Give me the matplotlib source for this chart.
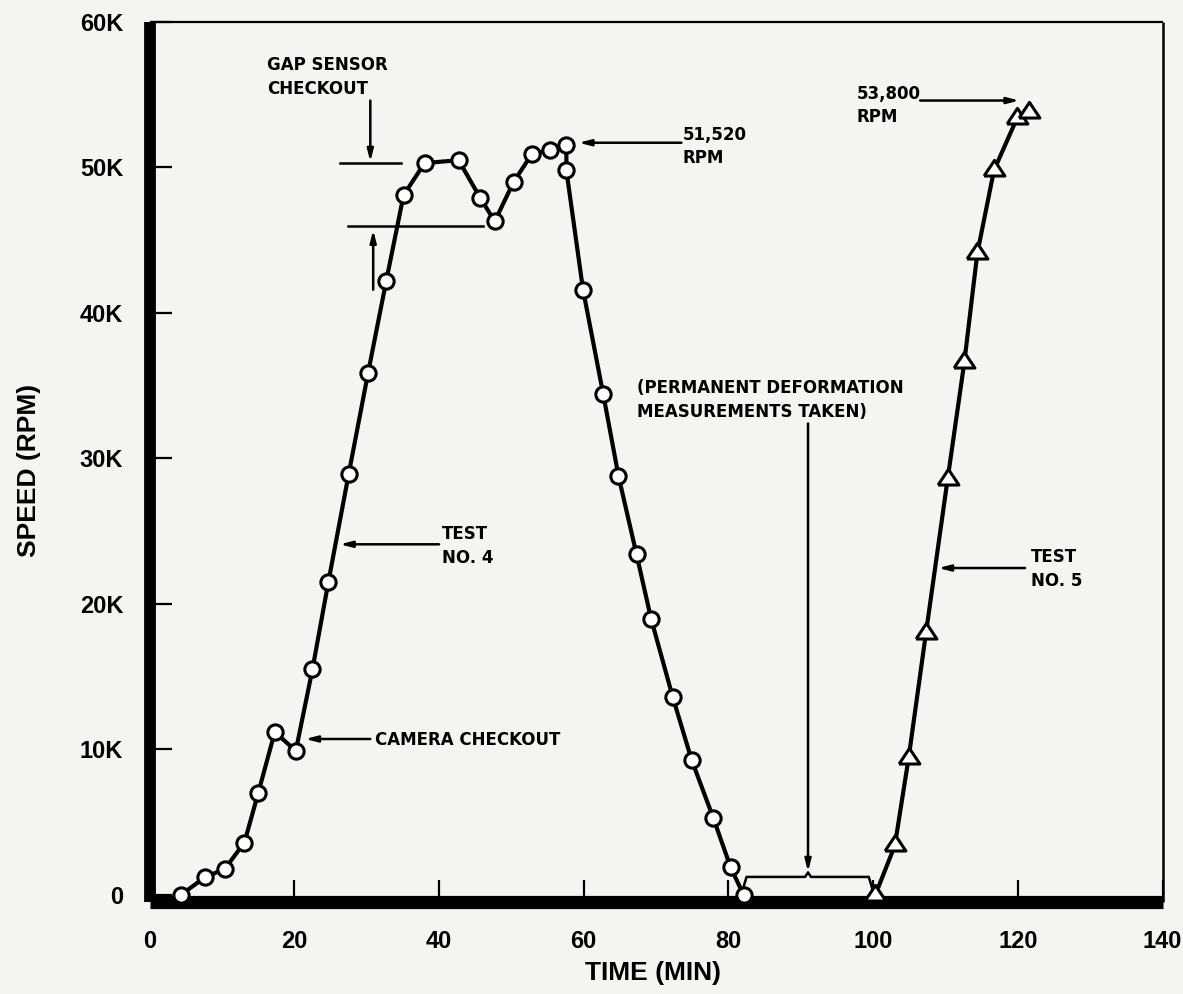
import matplotlib
matplotlib.use("Agg")
from matplotlib import pyplot as plt

# Data
test4_time = [4.3, 7.6, 10.4, 13.1, 15.0, 17.3, 20.2, 22.5, 24.7, 27.5, 30.2, 32.7,
              35.1, 38.0, 42.7, 45.7, 47.7, 50.3, 52.8, 55.3, 57.6, 57.6, 59.9, 62.7,
              64.8, 67.3, 69.3, 72.3, 74.9, 77.9, 80.3, 82.1]
test4_speed = [0, 1200, 1800, 3600, 7000, 11200, 9900, 15500, 21500, 28900, 35900, 42200,
               48100, 50300, 50500, 47900, 46300, 49000, 50900, 51200, 51520, 49800, 41600, 34400,
               28800, 23400, 19000, 13600, 9300, 5300, 1900, 0]

test5_time = [100.3, 103.0, 104.9, 107.3, 110.3, 112.6, 114.4, 116.7, 119.9, 121.6]
test5_speed = [0, 3400, 9400, 18000, 28600, 36600, 44100, 49800, 53400, 53800]

x_ticks = [0, 20, 40, 60, 80, 100, 120, 140]
y_ticks = [0, 10000, 20000, 30000, 40000, 50000, 60000]
y_tick_labels = ['0', '10K', '20K', '30K', '40K', '50K', '60K']

paper = '#f4f4f2'
tick_font = {'family': 'Liberation Sans', 'weight': 'bold', 'size': 17}
label_font = {'family': 'Liberation Sans', 'weight': 'bold', 'size': 19}
note_font = {'family': 'DejaVu Sans', 'weight': 'bold', 'size': 12}

fig = plt.figure(figsize=(11.83, 9.94), dpi=100, facecolor=paper)
ax = fig.add_axes([0.1265, 0.0921, 0.8562, 0.8858], facecolor=paper)

# curves
ax.plot(test4_time, test4_speed, color='black', lw=3, marker='o', ms=11,
        mfc='white', mec='black', mew=2.2, zorder=6, clip_on=False)
tri = [(-1, -0.53), (1, -0.53), (0, 0.97), (-1, -0.53)]
ax.plot(test5_time, test5_speed, color='black', lw=3, marker=tri, ms=15,
        mfc='white', mec='black', mew=2.2, zorder=6, clip_on=False)

ax.set_xlim(0, 140)
ax.set_ylim(-515, 60000)

# axes frame: heavy left/bottom, thin top/right
ax.spines['left'].set_linewidth(8.5)
ax.spines['bottom'].set_linewidth(9.5)
ax.spines['top'].set_linewidth(1.6)
ax.spines['right'].set_linewidth(1.8)
for s in ax.spines.values():
    s.set_zorder(4)
    s.set_capstyle('butt')

ax.set_xticks(x_ticks)
ax.set_xticklabels([str(t) for t in x_ticks], fontdict=tick_font)
ax.set_yticks(y_ticks)
ax.set_yticklabels(y_tick_labels, fontdict=tick_font)
ax.tick_params(axis='both', direction='in', length=16, width=1.6, color='black')
ax.tick_params(axis='x', pad=20)
ax.tick_params(axis='y', pad=19)

ax.set_xlabel('TIME (MIN)', fontdict=label_font)
ax.xaxis.set_label_coords(0.497, -0.066)
ax.set_ylabel('SPEED (RPM)', fontdict=label_font)
ax.yaxis.set_label_coords(-0.107, 0.491)

arrow = dict(arrowstyle='-|>,head_length=0.7,head_width=0.18', color='black',
             lw=1.8, shrinkA=0, shrinkB=0)

# gap sensor checkout
ax.text(16.2, 56200, 'GAP SENSOR\nCHECKOUT', ha='left', va='center',
        linespacing=1.4, fontdict=note_font)
ax.plot([26.3, 34.8], [50300, 50300], color='black', lw=1.8, zorder=3)
ax.plot([27.4, 46.1], [46000, 46000], color='black', lw=1.8, zorder=3)
ax.annotate('', xy=(30.5, 50400), xytext=(30.5, 54600), arrowprops=arrow)
ax.annotate('', xy=(30.9, 45700), xytext=(30.9, 41600), arrowprops=arrow)

# peak labels
ax.annotate('', xy=(59.3, 51700), xytext=(73.5, 51700), arrowprops=arrow)
ax.text(73.7, 51450, '51,520\nRPM', ha='left', va='center', linespacing=1.4,
        fontdict=note_font)
ax.annotate('', xy=(120.2, 54600), xytext=(106.5, 54600), arrowprops=arrow)
ax.text(97.7, 54250, '53,800\nRPM', ha='left', va='center', linespacing=1.4,
        fontdict=note_font)

# test labels
ax.annotate('', xy=(26.3, 24100), xytext=(40.0, 24100), arrowprops=arrow)
ax.text(40.4, 24000, 'TEST\nNO. 4', ha='left', va='center', linespacing=1.4,
        fontdict=note_font)
ax.annotate('', xy=(21.5, 10720), xytext=(30.5, 10720), arrowprops=arrow)
ax.text(31.2, 10680, 'CAMERA CHECKOUT', ha='left', va='center', fontdict=note_font)
ax.annotate('', xy=(109.0, 22470), xytext=(121.0, 22470), arrowprops=arrow)
ax.text(121.8, 22400, 'TEST\nNO. 5', ha='left', va='center', linespacing=1.4,
        fontdict=note_font)

# permanent deformation bracket
ax.text(67.3, 34000, '(PERMANENT DEFORMATION\nMEASUREMENTS TAKEN)', ha='left',
        va='center', linespacing=1.4, fontdict=note_font)
ax.annotate('', xy=(91.0, 1600), xytext=(91.0, 32400), arrowprops=arrow)
ax.plot([82.0, 82.5, 90.6, 91.0, 91.4, 99.4, 99.9],
        [400, 1240, 1240, 1550, 1240, 1240, 400], color='black', lw=1.8, zorder=3)

fig.savefig('out.png', dpi=100, facecolor=paper)
